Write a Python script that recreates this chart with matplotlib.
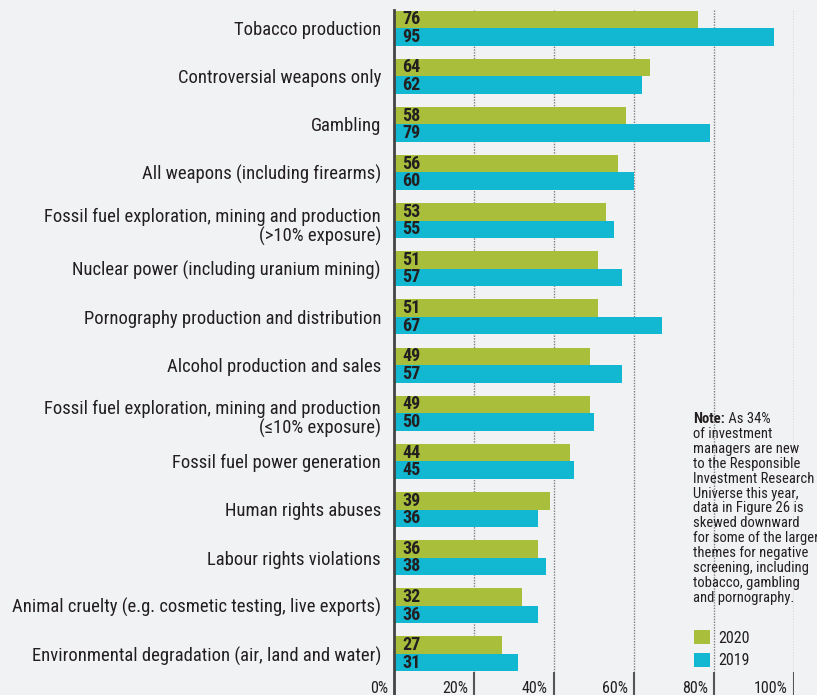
import numpy as np
import matplotlib.pyplot as plt
from matplotlib import font_manager

# Data
categories = [
    "Tobacco production",
    "Controversial weapons only",
    "Gambling",
    "All weapons (including firearms)",
    "Fossil fuel exploration, mining and production\n(>10% exposure)",
    "Nuclear power (including uranium mining)",
    "Pornography production and distribution",
    "Alcohol production and sales",
    "Fossil fuel exploration, mining and production\n(\u226410% exposure)",
    "Fossil fuel power generation",
    "Human rights abuses",
    "Labour rights violations",
    "Animal cruelty (e.g. cosmetic testing, live exports)",
    "Environmental degradation (air, land and water)",
]
values_2020 = [76, 64, 58, 56, 53, 51, 51, 49, 49, 44, 39, 36, 32, 27]
values_2019 = [95, 62, 79, 60, 55, 57, 67, 57, 50, 45, 36, 38, 36, 31]
xticks = [0, 20, 40, 60, 80, 100]
xtick_labels = ["0%", "20%", "40%", "60%", "80%", "100%"]

note_lines = [
    "of investment",
    "managers are new",
    "to the Responsible",
    "Investment Research",
    "Universe this year,",
    "data in Figure 26 is",
    "skewed downward",
    "for some of the larger",
    "themes for negative",
    "screening, including",
    "tobacco, gambling",
    "and pornography.",
]

# Colours
bg = "#f1f2f4"
green = "#a9bf3b"
cyan = "#12b7d1"
dark = "#231f20"

# Font: condensed if available
names = {f.name for f in font_manager.fontManager.ttflist}
fams = [f for f in ["Roboto Condensed", "Liberation Sans Narrow"] if f in names] + ["DejaVu Sans"]
plt.rcParams["font.family"] = fams

W, H = 817, 695
fig = plt.figure(figsize=(W / 100, H / 100), dpi=100, facecolor=bg)

# axes: x 0..100 -> px 394..794, top at 10 px, bottom at 695 px
ax = fig.add_axes([394 / W, 0, 400 / W, (H - 10) / H])
ax.set_facecolor(bg)

pitch = 48.15
y_top = -(28 - 10) / pitch
y_bot = (695 - 28) / pitch
ax.set_xlim(0, 100)
ax.set_ylim(y_bot, y_top)

y = np.arange(len(categories))
h = 17.5 / pitch

# gridlines dotted, then solid ticks at bottom
y_solid = (672 - 28) / pitch
for xt in xticks[1:]:
    ax.plot([xt, xt], [y_top, y_solid], color="#808080", lw=1, ls=(0, (1, 1)), zorder=1)
    ax.plot([xt, xt], [y_solid, y_bot], color="#555555", lw=1.5, zorder=1, solid_capstyle="butt")

ax.barh(y - h / 2, values_2020, height=h, color=green, zorder=2, label="2020")
ax.barh(y + h / 2, values_2019, height=h, color=cyan, zorder=2, label="2019")

for i in range(len(categories)):
    ax.text(2, y[i] - h / 2, str(values_2020[i]), va="center", ha="left",
            fontsize=13, fontweight="bold", color=dark, zorder=3)
    ax.text(2, y[i] + h / 2, str(values_2019[i]), va="center", ha="left",
            fontsize=13, fontweight="bold", color=dark, zorder=3)

# category labels, right aligned left of the axis
for i, lab in enumerate(categories):
    dy = (6 if "\n" in lab else 2) / pitch
    ax.text(-13 / 4, y[i] + dy, lab, ha="right", va="center", fontsize=13.4,
            color=dark, linespacing=1.05, clip_on=False)

# left spine
for s in ["top", "right", "bottom"]:
    ax.spines[s].set_visible(False)
ax.spines["left"].set_color("#444444")
ax.spines["left"].set_linewidth(2)
ax.spines["left"].set_bounds(y_bot, -h)

ax.set_yticks([])
ax.set_xticks([])

# x tick labels, left of the tick lines
y_lab = (688 - 28) / pitch
for xt, lab in zip(xticks, xtick_labels):
    ax.text(xt - 1.5, y_lab, lab, ha="right", va="center", fontsize=11.5, color=dark)

# note
nx = 693 / W
fs_note = 10.5
t1 = fig.text(nx, 1 - 419 / H, "Note:", fontsize=fs_note, fontweight="bold", color=dark, va="center")
fig.canvas.draw()
ax.annotate(" As 34%", xy=(1, 0.5), xycoords=t1, va="center", ha="left", fontsize=fs_note, color=dark)
fig.text(nx, 1 - 427 / H, "\n".join(note_lines), fontsize=fs_note, color=dark, va="top", linespacing=1.08)

# legend
leg = ax.legend(loc="upper left", bbox_to_anchor=(694 / W, 1 - 630 / H), bbox_transform=fig.transFigure,
                frameon=False, fontsize=11.5, handlelength=1.0, handleheight=1.0, handletextpad=0.5,
                labelspacing=0.45, borderpad=0, borderaxespad=0)
for t in leg.get_texts():
    t.set_color(dark)

fig.savefig("out.png", dpi=100, facecolor=bg)
